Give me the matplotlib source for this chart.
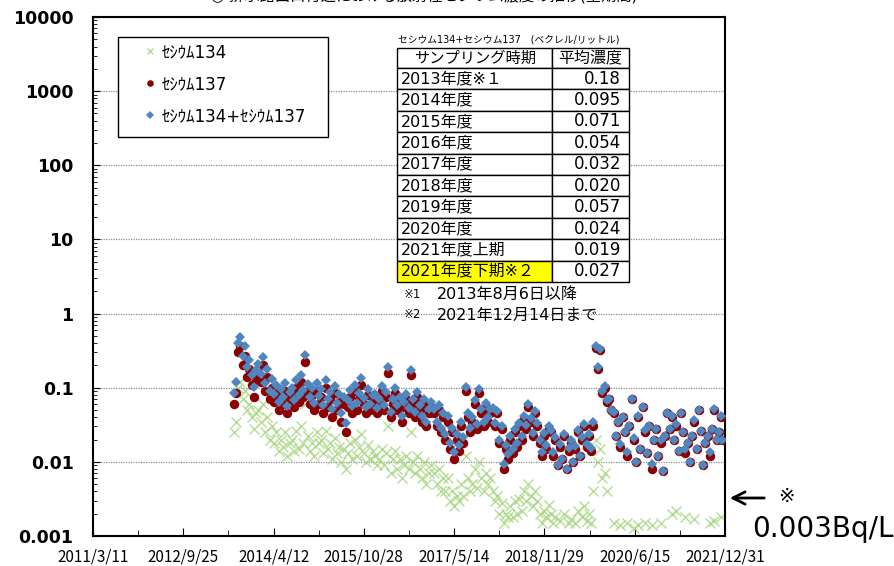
import numpy as np
import matplotlib
matplotlib.use("Agg")
import matplotlib.pyplot as plt
from matplotlib.patches import Rectangle

plt.rcParams['font.family'] = ['DejaVu Sans', 'Noto Sans CJK JP']

nan = np.nan

# sampling dates
sample_dates = [
    '2013-08-06', '2013-08-20', '2013-09-03', '2013-09-17', '2013-10-01', '2013-10-15', '2013-10-29',
    '2013-11-12', '2013-11-26', '2013-12-10', '2013-12-24',
    '2014-01-07', '2014-01-21', '2014-02-04', '2014-02-18', '2014-03-04', '2014-03-18', '2014-04-01',
    '2014-04-15', '2014-04-29', '2014-05-13', '2014-05-27', '2014-06-10', '2014-06-24', '2014-07-08',
    '2014-07-22', '2014-08-05', '2014-08-19', '2014-09-02', '2014-09-16', '2014-09-30', '2014-10-14',
    '2014-10-28', '2014-11-11', '2014-11-25', '2014-12-09', '2014-12-23',
    '2015-01-06', '2015-01-20', '2015-02-03', '2015-02-17', '2015-03-03', '2015-03-17', '2015-03-31',
    '2015-04-14', '2015-04-28', '2015-05-12', '2015-05-26', '2015-06-09', '2015-06-23', '2015-07-07',
    '2015-07-21', '2015-08-04', '2015-08-18', '2015-09-01', '2015-09-15', '2015-09-29', '2015-10-13',
    '2015-10-27', '2015-11-10', '2015-11-24', '2015-12-08', '2015-12-22',
    '2016-01-05', '2016-01-19', '2016-02-02', '2016-02-16', '2016-03-01', '2016-03-15', '2016-03-29',
    '2016-04-12', '2016-04-26', '2016-05-10', '2016-05-24', '2016-06-07', '2016-06-21', '2016-07-05',
    '2016-07-19', '2016-08-02', '2016-08-16', '2016-08-30', '2016-09-13', '2016-09-27', '2016-10-11',
    '2016-10-25', '2016-11-08', '2016-11-22', '2016-12-06', '2016-12-20',
    '2017-01-10', '2017-01-24', '2017-02-07', '2017-02-21', '2017-03-07', '2017-03-21', '2017-04-04',
    '2017-04-18', '2017-05-02', '2017-05-16', '2017-05-30', '2017-06-13', '2017-06-27', '2017-07-11',
    '2017-07-25', '2017-08-08', '2017-08-22', '2017-09-05', '2017-09-19', '2017-10-03', '2017-10-17',
    '2017-10-31', '2017-11-14', '2017-11-28', '2017-12-12', '2017-12-26',
    '2018-01-09', '2018-01-23', '2018-02-06', '2018-02-20', '2018-03-06', '2018-03-20', '2018-04-03',
    '2018-04-17', '2018-05-01', '2018-05-15', '2018-05-29', '2018-06-12', '2018-06-26', '2018-07-10',
    '2018-07-24', '2018-08-07', '2018-08-21', '2018-09-04', '2018-09-18', '2018-10-02', '2018-10-16',
    '2018-10-30', '2018-11-13', '2018-11-27', '2018-12-11', '2018-12-25',
    '2019-01-08', '2019-01-22', '2019-02-05', '2019-02-19', '2019-03-05', '2019-03-19', '2019-04-02',
    '2019-04-16', '2019-04-30', '2019-05-14', '2019-05-28', '2019-06-11', '2019-06-25', '2019-07-09',
    '2019-07-23', '2019-08-06', '2019-08-20', '2019-09-03', '2019-09-17', '2019-10-01', '2019-10-15',
    '2019-10-29', '2019-11-12', '2019-11-26', '2019-12-10', '2019-12-24',
    '2020-01-07', '2020-01-21', '2020-02-04', '2020-02-18', '2020-03-03', '2020-03-17', '2020-03-31',
    '2020-04-14', '2020-04-28', '2020-05-12', '2020-05-26', '2020-06-09', '2020-06-23', '2020-07-07',
    '2020-07-21', '2020-08-04', '2020-08-18', '2020-09-01', '2020-09-15', '2020-09-29', '2020-10-13',
    '2020-10-27', '2020-11-10', '2020-11-24', '2020-12-08', '2020-12-22',
    '2021-01-05', '2021-01-19', '2021-02-02', '2021-02-16', '2021-03-02', '2021-03-16', '2021-03-30',
    '2021-04-13', '2021-04-27', '2021-05-11', '2021-05-25', '2021-06-08', '2021-06-22', '2021-07-06',
    '2021-07-20', '2021-08-03', '2021-08-17', '2021-08-31', '2021-09-14', '2021-09-28', '2021-10-12',
    '2021-10-26', '2021-11-09', '2021-11-23', '2021-12-07', '2021-12-14',
]

# Cs-137 (Bq/L)
cs137 = [
    0.060, 0.085, 0.30, 0.36, 0.20, 0.27, 0.14, 0.18, 0.11, 0.075, 0.13,
    0.16, 0.12, 0.20, 0.09, 0.14, 0.07, 0.10, 0.065, 0.085, 0.05, 0.075, 0.06, 0.09,
    0.045, 0.07, 0.08, 0.055, 0.10, 0.065, 0.12, 0.075, 0.22, 0.09, 0.06, 0.08, 0.05,
    0.09, 0.06, 0.075, 0.045, 0.10, 0.055, 0.07, 0.04, 0.085, 0.05, 0.065, 0.035, 0.06,
    0.025, 0.055, 0.075, 0.045, 0.09, 0.05, 0.07, 0.11, 0.06, 0.045, 0.08, 0.05, 0.065,
    0.07, 0.045, 0.06, 0.09, 0.05, 0.075, 0.16, 0.04, 0.06, 0.085, 0.05, 0.065, 0.035,
    0.055, 0.07, 0.045, 0.15, 0.06, 0.04, 0.075, 0.05, 0.035, 0.06, 0.03, 0.045, 0.055,
    0.045, 0.03, 0.05, 0.025, 0.04, 0.02, 0.035, 0.015, 0.025, 0.011, 0.02, 0.014, 0.03,
    0.018, 0.09, 0.04, 0.025, 0.035, 0.06, 0.028, 0.085, 0.045, 0.03, 0.055, 0.035, 0.045,
    0.05, 0.03, 0.045, 0.018, 0.028, 0.008, 0.015, 0.011, 0.02, 0.013, 0.025, 0.016, 0.03,
    0.02, 0.038, 0.028, 0.055, 0.035, 0.022, 0.045, 0.03, 0.018, 0.012, 0.022, 0.015, 0.028,
    0.025, 0.012, 0.02, 0.009, 0.016, 0.011, 0.022, 0.008, 0.014, 0.018, 0.01, 0.015, 0.025,
    0.012, 0.02, 0.03, 0.016, 0.022, 0.014, 0.03, 0.34, 0.18, 0.32, 0.085, 0.10, 0.065,
    0.07, 0.05, 0.045, 0.022, 0.035, 0.016, 0.04, 0.025, 0.012, 0.03, 0.07, 0.02, 0.01,
    0.04, 0.015, 0.055, 0.025, 0.013, 0.03, 0.008, 0.02, 0.028, 0.012, 0.018, 0.0075, 0.022,
    0.045, 0.028, 0.04, 0.02, 0.03, 0.014, 0.045, 0.025, 0.013, 0.018, 0.01, 0.022, 0.035,
    0.015, 0.05, 0.026, 0.009, 0.018, 0.022, 0.012, 0.028, 0.05, 0.02, 0.025, 0.04, 0.02,
]

# Cs-134 (Bq/L), nan = not detected
cs134 = [
    0.025, 0.035, 0.10, 0.12, 0.07, 0.09, 0.05, 0.06, 0.04, 0.028, 0.045,
    0.05, 0.035, 0.06, 0.025, 0.04, 0.02, 0.03, 0.018, 0.025, 0.014, 0.02, 0.016, 0.025,
    0.012, 0.018, 0.02, 0.014, 0.026, 0.015, 0.03, 0.018, 0.06, 0.022, 0.014, 0.018, 0.012,
    0.025, 0.018, 0.02, 0.013, 0.026, 0.015, 0.018, 0.011, 0.021, 0.013, 0.016, 0.010, 0.015,
    0.008, 0.013, 0.018, 0.011, 0.02, 0.012, 0.016, 0.024, 0.013, 0.01, 0.017, 0.011, 0.014,
    0.012, 0.009, 0.011, 0.015, 0.009, 0.013, 0.03, 0.007, 0.011, 0.014, 0.008, 0.011, 0.006,
    0.009, 0.012, 0.008, 0.025, 0.01, 0.007, 0.012, 0.008, 0.006, 0.01, 0.005, 0.007, 0.009,
    0.007, 0.005, 0.008, 0.004, 0.006, 0.004, 0.006, 0.003, 0.004, 0.0025, 0.0035, 0.003, 0.005,
    0.0035, 0.012, 0.006, 0.004, 0.005, 0.008, 0.0045, 0.01, 0.006, 0.004, 0.007, 0.005, 0.006,
    0.004, 0.003, 0.0035, 0.002, 0.0028, 0.0015, 0.002, 0.0018, 0.0025, 0.0018, 0.003, 0.002, 0.0032,
    0.0022, 0.004, 0.003, 0.005, 0.0035, 0.0025, 0.004, 0.003, 0.002, 0.0015, 0.0022, 0.0018, 0.0026,
    0.002, 0.0015, 0.0018, nan, 0.0016, nan, 0.002, nan, 0.0015, 0.0017, nan, 0.0015, 0.0022,
    nan, 0.0018, 0.0025, 0.0016, 0.002, 0.0015, 0.004, 0.02, 0.01, 0.015, 0.006, 0.007, 0.004,
    nan, nan, 0.0015, nan, nan, 0.0014, nan, nan, 0.0015, nan, nan, 0.0013, nan,
    0.0014, nan, nan, 0.0015, nan, nan, 0.0014, nan, nan, nan, 0.0015, nan, nan,
    nan, nan, 0.002, nan, 0.0022, nan, nan, nan, 0.0018, nan, nan, nan, 0.0017,
    nan, nan, nan, nan, nan, nan, 0.0015, nan, 0.0016, nan, nan, 0.0018, nan,
]

series_labels = ['ｾｼｳﾑ134', 'ｾｼｳﾑ137', 'ｾｼｳﾑ134+ｾｼｳﾑ137']

x_tick_dates = ['2011-03-11', '2012-09-25', '2014-04-12', '2015-10-28',
                '2017-05-14', '2018-11-29', '2020-06-15', '2021-12-31']
x_tick_labels = ['2011/3/11', '2012/9/25', '2014/4/12', '2015/10/28',
                 '2017/5/14', '2018/11/29', '2020/6/15', '2021/12/31']
y_ticks = [0.001, 0.01, 0.1, 1, 10, 100, 1000, 10000]
y_tick_labels = ['0.001', '0.01', '0.1', '1', '10', '100', '1000', '10000']

table_header = ['サンプリング時期', '平均濃度']
table_periods = ['2013年度※１', '2014年度', '2015年度', '2016年度', '2017年度',
                 '2018年度', '2019年度', '2020年度', '2021年度上期', '2021年度下期※２']
table_means = ['0.18', '0.095', '0.071', '0.054', '0.032',
               '0.020', '0.057', '0.024', '0.019', '0.027']
table_caption = 'セシウム134+セシウム137　(ベクレル/リットル)'
notes = ['2013年8月6日以降', '2021年12月14日まで']

dates = np.array(sample_dates, dtype='datetime64[D]')
c137 = np.array(cs137)
c134 = np.array(cs134)
total = c137 + np.nan_to_num(c134)

W, H = 895, 566
fig = plt.figure(figsize=(W / 100, H / 100), dpi=100)
ax = fig.add_axes([93 / W, 1 - 536 / H, 632 / W, 519 / H])


def fx(px):
    return px / W


def fy(py):
    return 1 - py / H


def axx(px):
    return (px - 93) / 632


def axy(py):
    return (536 - py) / 519


l134, = ax.plot(dates, c134, 'x', color='#a9d883', ms=7, mew=1.0, alpha=0.85,
                linestyle='none', label=series_labels[0], zorder=2)
l137, = ax.plot(dates, c137, 'o', color='#8b0000', ms=6.8, mew=0,
                linestyle='none', label=series_labels[1], zorder=3)
ltot, = ax.plot(dates, total, 'D', color='#4f86c0', ms=5.6, mew=0,
                linestyle='none', label=series_labels[2], zorder=3.5)

ax.set_yscale('log')
ax.set_ylim(0.001, 10000)
ax.set_yticks(y_ticks)
ax.set_yticklabels(y_tick_labels, fontsize=12.5, fontweight='bold')
ax.yaxis.set_minor_locator(matplotlib.ticker.LogLocator(base=10, subs=np.arange(2, 10)))
ax.yaxis.set_minor_formatter(matplotlib.ticker.NullFormatter())

xt = np.array(x_tick_dates, dtype='datetime64[D]')
ax.set_xlim(xt[0], xt[-1])
ax.set_xticks(xt)
ax.set_xticklabels(x_tick_labels, fontsize=11, family='Noto Sans CJK JP')
ax.set_xticks(xt[:-1] + (xt[1:] - xt[:-1]) // 2, minor=True)

ax.tick_params(axis='both', which='both', direction='in')
ax.tick_params(axis='y', which='major', length=5, pad=14)
ax.tick_params(axis='y', which='minor', length=3)
ax.tick_params(axis='x', which='major', length=6, pad=9)
ax.tick_params(axis='x', which='minor', length=4)

ax.grid(True, which='major', axis='y', color='#8c8c8c', linestyle=(0, (1, 1)), linewidth=0.9)
ax.set_axisbelow(True)
for s in ax.spines.values():
    s.set_linewidth(1.5)
    s.set_color('black')

# legend box
ax.add_patch(Rectangle((axx(118), axy(137)), 210 / 632, 100 / 519, transform=ax.transAxes,
                       facecolor='white', edgecolor='black', lw=1, zorder=6))
leg = ax.legend([l134, l137, ltot], series_labels, loc='upper left',
                bbox_to_anchor=(axx(142), axy(43)), frameon=False, borderpad=0,
                borderaxespad=0, handlelength=1.0, handletextpad=0.2,
                labelspacing=0.85, fontsize=12, markerscale=0.7)
leg.set_zorder(7)

# summary table
col_x = [397, 552, 629]
row_y = [48, 68] + [68 + 21.4 * (i + 1) for i in range(len(table_periods))]
fig.text(fx(398), fy(40), table_caption, fontsize=7, ha='left', va='center')
for r in range(len(row_y) - 1):
    y0, y1 = row_y[r], row_y[r + 1]
    for c in range(2):
        fc = '#ffff00' if (r == len(row_y) - 2 and c == 0) else 'white'
        fig.add_artist(Rectangle((fx(col_x[c]), fy(y1)), (col_x[c + 1] - col_x[c]) / W,
                                 (y1 - y0) / H, transform=fig.transFigure,
                                 facecolor=fc, edgecolor='black', lw=1, zorder=5))
    yc = fy((y0 + y1) / 2)
    if r == 0:
        fig.text(fx(475), yc, table_header[0], fontsize=11, ha='center', va='center', zorder=6)
        fig.text(fx(590), yc, table_header[1], fontsize=11.5, ha='center', va='center', zorder=6)
    else:
        fig.text(fx(401), yc, table_periods[r - 1], fontsize=11.5, ha='left', va='center', zorder=6)
        fig.text(fx(621), yc, table_means[r - 1], fontsize=12, ha='right', va='center', zorder=6)

for i, note in enumerate(notes):
    yy = fy(294 + 21 * i)
    fig.text(fx(404), yy, '※' + str(i + 1), fontsize=8.5, ha='left', va='center')
    fig.text(fx(437), yy, note, fontsize=11.5, ha='left', va='center')

# title, cut off at the top edge as in the source image
fig.text(fx(424), fy(-4), '◎ 排水路出口付近における放射性セシウム濃度の推移(全期間)',
         fontsize=11, ha='center', va='center')

# right-side annotation
ax.annotate('', xy=(727, H - 498), xytext=(767, H - 498), xycoords='figure pixels',
            textcoords='figure pixels',
            arrowprops=dict(arrowstyle='->', lw=2, color='black', mutation_scale=22),
            annotation_clip=False)
fig.text(fx(786), fy(497), '※', fontsize=14, ha='center', va='center')
fig.text(fx(752), fy(529), '0.003Bq/L', fontsize=20, ha='left', va='center')

fig.savefig('out.png', dpi=100)
